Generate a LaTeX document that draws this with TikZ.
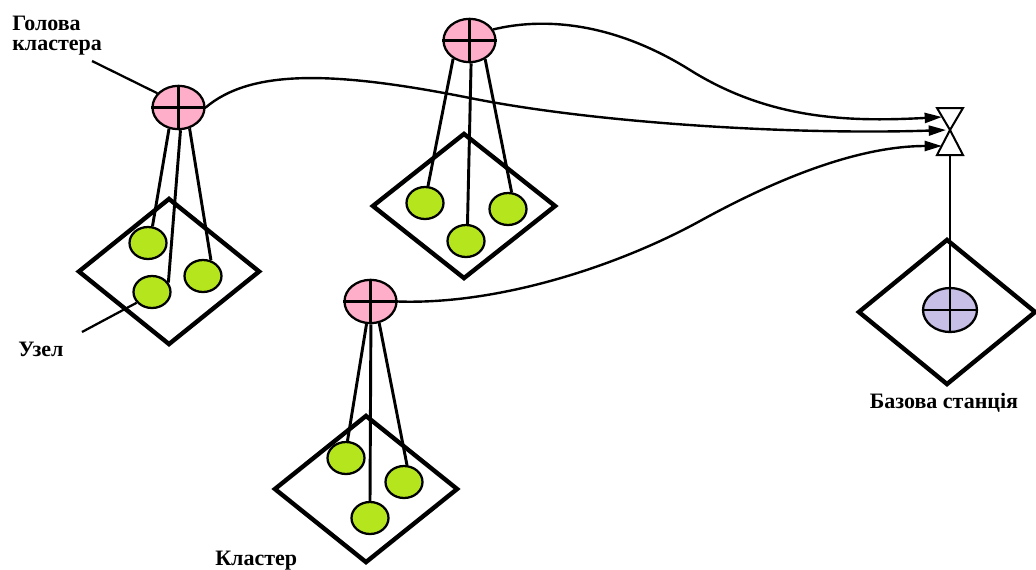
\documentclass[tikz,border=0pt]{standalone}
\usepackage{fontspec}
\setmainfont{Liberation Serif}
\usetikzlibrary{shapes.geometric,arrows.meta}
\definecolor{headpink}{HTML}{FFAEC9}
\definecolor{nodegreen}{HTML}{B5E61D}
\definecolor{baselilac}{HTML}{C8BFE7}
\tikzset{
  cluster/.style={diamond, draw, line width=3.3pt, inner sep=0pt},
  head/.style={ellipse, draw, line width=1.7pt, fill=headpink, inner sep=0pt,
    minimum width=39pt, minimum height=32.5pt},
  sensor/.style={ellipse, draw, line width=1.7pt, fill=nodegreen, inner sep=0pt,
    minimum width=27.75pt, minimum height=24pt},
  station/.style={head, fill=baselilac, minimum width=40.5pt, minimum height=33pt},
  link/.style={line width=2.2pt},
  hop/.style={line width=1.8pt, -{Triangle[length=13pt,width=7.5pt]}},
  pointer/.style={line width=1.7pt},
  headcross/.style={line width=1.9pt},
  caption/.style={font=\fontsize{16.5pt}{15pt}\selectfont\bfseries, inner sep=0pt},
  bowtie/.style={line width=1.5pt, fill=white},
}
\newcommand\crosshair[1]{\draw[headcross] (#1.north) -- (#1.south) (#1.west) -- (#1.east);}
\begin{document}
\begin{tikzpicture}[x=0.75pt, y=-0.75pt]
\useasboundingbox (0,0) rectangle (1036,569);

% cluster areas
\node[cluster, minimum width=136.5pt, minimum height=110.25pt] (c1) at (169,271.5) {};
\node[cluster, minimum width=138pt, minimum height=109.5pt] (c2) at (464,206) {};
\node[cluster, minimum width=138pt, minimum height=111pt] (c3) at (366,489) {};
\node[cluster, minimum width=133.5pt, minimum height=109.5pt] (cb) at (947,312) {};

% cluster heads
\node[head] (h1) at (178.5,107.5) {};
\node[head] (h2) at (469.5,40.5) {};
\node[head] (h3) at (370.5,301.5) {};
\crosshair{h1}
\crosshair{h2}
\crosshair{h3}

% base station
\node[station] (bs) at (950,310) {};
\crosshair{bs}

% sensor nodes
\node[sensor] (n1a) at (148,243) {};
\node[sensor] (n1b) at (152,292) {};
\node[sensor] (n1c) at (203,276) {};
\node[sensor] (n2a) at (425,203) {};
\node[sensor] (n2b) at (466,241) {};
\node[sensor] (n2c) at (508,209) {};
\node[sensor] (n3a) at (346,458) {};
\node[sensor] (n3b) at (370,518) {};
\node[sensor] (n3c) at (404,482) {};

% links from heads to their members
\draw[link] (h1.-114) -- (n1a.75);
\draw[link] (h1.-85) -- (n1b.30);
\draw[link] (h1.-62) -- (n1c.63);
\draw[link] (h2.-132) -- (n2a.80);
\draw[link] (h2.-86) -- (n2b.85);
\draw[link] (h2.-50) -- (n2c.78);
\draw[link] (h3.-100) -- (n3a.85);
\draw[link] (h3.-89) -- (n3b.90);
\draw[link] (h3.-68) -- (n3c.80);

% antenna of the base station
\coordinate (bt) at (950,130);
\coordinate (btb) at (950,155);
\coordinate (in1) at (942,117);
\coordinate (in2) at (946,130);
\coordinate (in3) at (942,146);
\draw[link, line width=1.7pt] (btb) -- (bs.north);

% transmissions from heads to the base station
\draw[hop] (h2.25) .. controls (540,18) and (610,20) .. (690,70)
  .. controls (770,120) and (850,122) .. (in1);
\draw[hop] (h1.east) .. controls (250,70) and (330,70) .. (470,98)
  .. controls (600,124) and (800,135) .. (in2);
\draw[hop] (h3.east) .. controls (500,305) and (620,265) .. (700,221)
  .. controls (780,177) and (860,146) .. (in3);

\draw[bowtie] (bt) -- ++(-13,-22) -- ++(26,0) -- cycle;
\draw[bowtie] (bt) -- ++(-13,25) -- ++(26,0) -- cycle;

% labels
\coordinate (hp) at (92,61);
\coordinate (np) at (82,332);
\draw[pointer] (hp) -- (h1.146);
\draw[pointer] (np) -- (n1b.215);
\node[caption, align=left, anchor=north west] (lblhead) at (12,15.5) {Голова\\кластера};
\node[caption, anchor=base west] (lblnode) at (18,356) {Узел};
\node[caption, anchor=base west] (lblcluster) at (215,565) {Кластер};
\node[caption, anchor=base] (lblbase) at (944,408) {Базова станція};
\end{tikzpicture}
\end{document}
